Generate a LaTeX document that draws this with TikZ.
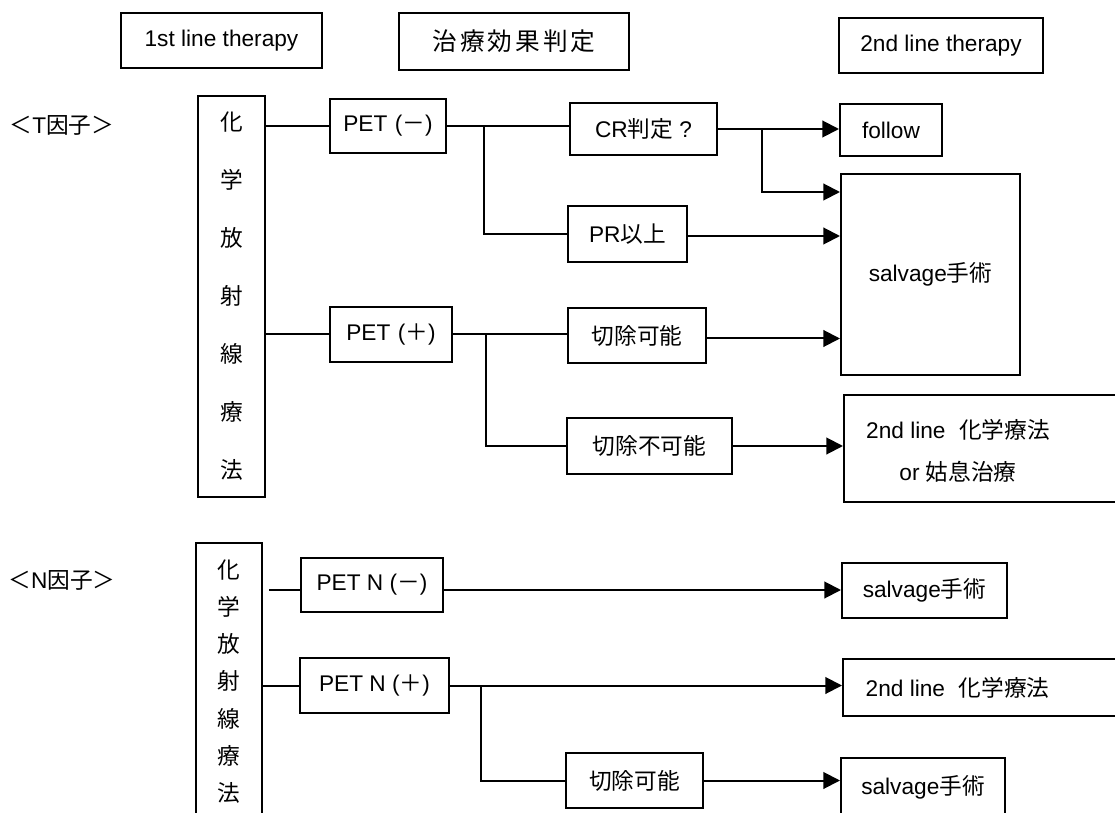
\documentclass[tikz,border=0pt]{standalone}
\usepackage{fontspec}
\setmainfont{Liberation Sans}
\newfontfamily\jp{Noto Sans CJK JP}
\newfontfamily\jpwide[LetterSpace=12]{Noto Sans CJK JP}
\usetikzlibrary{arrows.meta,calc}
\newdimen\pxu \pxu=0.75pt
\tikzset{
  bx/.style 2 args={draw, line width=1.5pt, inner sep=0pt, minimum width=#1\pxu, minimum height=#2\pxu},
  wire/.style={line width=1.5pt},
  arr/.style={line width=1.5pt, -{Triangle[length=12.5pt,width=12.5pt]}},
}
\begin{document}
\begin{tikzpicture}[x=0.75pt,y=-0.75pt, every node/.style={font=\fontsize{17}{20}\selectfont}]
\useasboundingbox (0,0) rectangle (1115,813);
\clip (0,0) rectangle (1115,813);
\fill[white] (0,0) rectangle (1115,813);

% headers
\node[bx={201}{55}] (h1) at (221.5,40.5) {1st line therapy};
\node[bx={230}{57}, font=\fontsize{18.5}{20}\selectfont\jpwide] (h2) at (514,41.5) {治療効果判定};
\node[bx={204}{55}] (h3) at (941,45.5) {2nd line therapy};

% section labels
\node (tl) at (62,125) {{\jp ＜}T{\jp 因子＞}};
\node (nl) at (62,580) {{\jp ＜}N{\jp 因子＞}};

% vertical boxes
\node[bx={67}{401}, align=center, font=\fontsize{17}{43.5}\selectfont\jp] (tv) at (231.5,296.5) {化\\学\\放\\射\\線\\療\\法};
\node[bx={66}{277}, align=center, font=\fontsize{17}{27.9}\selectfont\jp] (nv) at (229,681.5) {化\\学\\放\\射\\線\\療\\法};

% T section
\node[bx={116}{54}] (pn) at (388,126) {PET\,\,({\jp －})};
\node[bx={147}{52}] (cr) at (643.5,129) {CR{\jp 判定} ?};
\node[bx={119}{56}] (pr) at (627.5,234) {PR{\jp 以上}};
\node[bx={122}{55}] (pp) at (391,334.5) {PET\,\,({\jp ＋})};
\node[bx={138}{55}] (rs) at (637,335.5) {\jp 切除可能};
\node[bx={165}{56}] (ur) at (649.5,446) {\jp 切除不可能};
\node[bx={102}{52}] (fo) at (891,130) {follow};
\node[bx={179}{201}] (sv) at (930.5,274.5) {salvage{\jp 手術}};
\node[bx={300}{107}, anchor=west] (c2b) at (843,448.5) {};
\node[align=center, font=\fontsize{17}{32}\selectfont] (c2) at (958,451) {2nd line\hspace{0.6em}{\jp 化学療法}\\or {\jp 姑息治療}};

% N section
\node[bx={142}{54}] (pnn) at (372,585) {PET N ({\jp －})};
\node[bx={149}{55}] (pnp) at (374.5,685.5) {PET N ({\jp ＋})};
\node[bx={165}{55}] (ns1) at (924.5,590.5) {salvage{\jp 手術}};
\node[bx={300}{57}, anchor=west] (n2b) at (842,687.5) {};
\node (n2) at (957.5,687.5) {2nd line\hspace{0.6em}{\jp 化学療法}};
\node[bx={137}{55}] (nrs) at (634.5,780.5) {\jp 切除可能};
\node[bx={164}{58}] (ns2) at (923,787) {salvage{\jp 手術}};

% junction columns
\coordinate (j1) at (484,0);
\coordinate (j2) at (762,0);
\coordinate (j3) at (486,0);
\coordinate (j4) at (481,0);

% T connectors
\draw[wire] (pn.west -| tv.east) -- (pn.west);
\draw[wire] (pn.east) -- (pn.east -| cr.west);
\draw[wire] (pn.east -| j1) |- (pr.west);
\draw[arr] (cr.east) -- (cr.east -| fo.west);
\draw[arr] (cr.east -| j2) |- ($(sv.north west)+(0,19)$);
\draw[arr] ($(pr.east)+(0,2)$) -- ($(pr.east -| sv.west)+(0,2)$);
\draw[wire] (pp.west -| tv.east) -- (pp.west);
\draw[wire] (pp.east) -- (pp.east -| rs.west);
\draw[wire] (pp.east -| j3) |- (ur.west);
\draw[arr] ($(rs.east)+(0,3)$) -- ($(rs.east -| sv.west)+(0,3)$);
\draw[arr] (ur.east) -- (ur.east -| c2b.west);

% N connectors
\draw[wire, shorten <=4.5pt] ($(pnn.west -| nv.east)+(0,5)$) -- ($(pnn.west)+(0,5)$);
\draw[arr] ($(pnn.east)+(0,5)$) -- ($(pnn.east -| ns1.west)+(0,5)$);
\draw[wire] (pnp.west -| nv.east) -- (pnp.west);
\draw[arr] (pnp.east) -- (pnp.east -| n2b.west);
\draw[wire] (pnp.east -| j4) |- (nrs.west);
\draw[arr] (nrs.east) -- (nrs.east -| ns2.west);
\end{tikzpicture}
\end{document}
